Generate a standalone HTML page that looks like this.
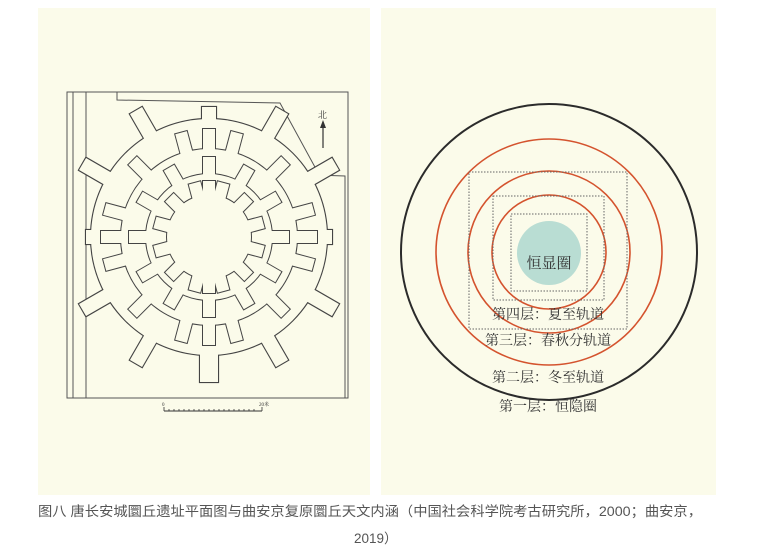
<!DOCTYPE html>
<html><head><meta charset="utf-8"><style>
html,body{margin:0;padding:0;background:#fff;}
svg{display:block}
</style></head><body>
<svg width="758" height="554" viewBox="0 0 758 554" xmlns="http://www.w3.org/2000/svg" font-family="Liberation Serif, Noto Serif CJK SC, serif">
<rect x="38" y="8" width="332" height="487" fill="#fbfbea"/>
<rect x="381" y="8" width="335" height="487" fill="#fbfbea"/>
<g fill="none" stroke="#555" stroke-width="1">
<rect x="67" y="92" width="281" height="306"/>
<line x1="73" y1="92" x2="73" y2="398"/>
<line x1="86" y1="92" x2="86" y2="398"/>
<polyline points="117,92 117,100 280,103 322,180"/>
<polyline points="315,175 345,176 345,398"/>
</g>
<g transform="translate(209,237)">
<g stroke="#444" stroke-width="2.2" fill="#444">
<circle r="118"/>
<g id="t1"><rect x="-7" y="-130" width="14" height="30" transform="rotate(0)"/><rect x="-7" y="-146" width="14" height="44" transform="rotate(30)"/><rect x="-7" y="-146" width="14" height="44" transform="rotate(60)"/><rect x="-7" y="-123" width="14" height="24" transform="rotate(90)"/><rect x="-7" y="-146" width="14" height="44" transform="rotate(120)"/><rect x="-7" y="-146" width="14" height="44" transform="rotate(150)"/><rect x="-9" y="-145" width="18" height="40" transform="rotate(180)"/><rect x="-7" y="-146" width="14" height="44" transform="rotate(210)"/><rect x="-7" y="-146" width="14" height="44" transform="rotate(240)"/><rect x="-7" y="-123" width="14" height="24" transform="rotate(270)"/><rect x="-7" y="-146" width="14" height="44" transform="rotate(300)"/><rect x="-7" y="-146" width="14" height="44" transform="rotate(330)"/></g>
</g>
<g fill="#fbfbea"><circle r="118"/><use href="#t1"/></g>
<g stroke="#444" stroke-width="2" fill="#444">
<circle r="88"/>
<g id="t2"><rect x="-6" y="-108" width="12" height="30" transform="rotate(15)"/><rect x="-6" y="-108" width="12" height="30" transform="rotate(45)"/><rect x="-6" y="-108" width="12" height="30" transform="rotate(75)"/><rect x="-6" y="-108" width="12" height="30" transform="rotate(105)"/><rect x="-6" y="-108" width="12" height="30" transform="rotate(135)"/><rect x="-6" y="-108" width="12" height="30" transform="rotate(165)"/><rect x="-6" y="-108" width="12" height="30" transform="rotate(195)"/><rect x="-6" y="-108" width="12" height="30" transform="rotate(225)"/><rect x="-6" y="-108" width="12" height="30" transform="rotate(255)"/><rect x="-6" y="-108" width="12" height="30" transform="rotate(285)"/><rect x="-6" y="-108" width="12" height="30" transform="rotate(315)"/><rect x="-6" y="-108" width="12" height="30" transform="rotate(345)"/><rect x="-6" y="-108" width="12" height="30" transform="rotate(0)"/><rect x="-6" y="-108" width="12" height="30" transform="rotate(180)"/><rect x="-6" y="-108" width="12" height="30" transform="rotate(90)"/><rect x="-6" y="-108" width="12" height="30" transform="rotate(270)"/></g>
</g>
<g fill="#fbfbea"><circle r="88"/><use href="#t2"/></g>
<g stroke="#444" stroke-width="2" fill="#444">
<circle r="63"/>
<g id="t3"><rect x="-6" y="-80" width="12" height="24" transform="rotate(0)"/><rect x="-6" y="-80" width="12" height="24" transform="rotate(30)"/><rect x="-6" y="-80" width="12" height="24" transform="rotate(60)"/><rect x="-6" y="-80" width="12" height="24" transform="rotate(90)"/><rect x="-6" y="-80" width="12" height="24" transform="rotate(120)"/><rect x="-6" y="-80" width="12" height="24" transform="rotate(150)"/><rect x="-6" y="-80" width="12" height="24" transform="rotate(180)"/><rect x="-6" y="-80" width="12" height="24" transform="rotate(210)"/><rect x="-6" y="-80" width="12" height="24" transform="rotate(240)"/><rect x="-6" y="-80" width="12" height="24" transform="rotate(270)"/><rect x="-6" y="-80" width="12" height="24" transform="rotate(300)"/><rect x="-6" y="-80" width="12" height="24" transform="rotate(330)"/></g>
</g>
<g fill="#fbfbea"><circle r="63"/><use href="#t3"/></g>
<g stroke="#444" stroke-width="2" fill="#444">
<circle r="42"/>
<g id="t4"><rect x="-6" y="-56" width="12" height="20" transform="rotate(15)"/><rect x="-6" y="-56" width="12" height="20" transform="rotate(45)"/><rect x="-6" y="-56" width="12" height="20" transform="rotate(75)"/><rect x="-6" y="-56" width="12" height="20" transform="rotate(105)"/><rect x="-6" y="-56" width="12" height="20" transform="rotate(135)"/><rect x="-6" y="-56" width="12" height="20" transform="rotate(165)"/><rect x="-6" y="-56" width="12" height="20" transform="rotate(195)"/><rect x="-6" y="-56" width="12" height="20" transform="rotate(225)"/><rect x="-6" y="-56" width="12" height="20" transform="rotate(255)"/><rect x="-6" y="-56" width="12" height="20" transform="rotate(285)"/><rect x="-6" y="-56" width="12" height="20" transform="rotate(315)"/><rect x="-6" y="-56" width="12" height="20" transform="rotate(345)"/><rect x="-6" y="-56" width="12" height="20" transform="rotate(0)"/><rect x="-6" y="-56" width="12" height="20" transform="rotate(180)"/></g>
</g>
<g fill="#fbfbea"><circle r="42"/><use href="#t4"/></g>
</g>
<text x="318" y="118" font-size="9" fill="#333">北</text>
<line x1="323" y1="122" x2="323" y2="148" stroke="#333" stroke-width="1.2"/>
<polygon points="320,128 326,128 323,120" fill="#333"/>
<line x1="164" y1="411" x2="262" y2="411" stroke="#333" stroke-width="1"/>
<g stroke="#333" stroke-width="0.8">
<line x1="164" y1="407" x2="164" y2="411"/><line x1="262" y1="407" x2="262" y2="411"/>
<line x1="169" y1="409" x2="169" y2="411"/><line x1="174" y1="409" x2="174" y2="411"/><line x1="179" y1="409" x2="179" y2="411"/><line x1="184" y1="409" x2="184" y2="411"/><line x1="189" y1="409" x2="189" y2="411"/><line x1="194" y1="409" x2="194" y2="411"/><line x1="199" y1="409" x2="199" y2="411"/><line x1="204" y1="409" x2="204" y2="411"/><line x1="209" y1="409" x2="209" y2="411"/><line x1="214" y1="409" x2="214" y2="411"/><line x1="219" y1="409" x2="219" y2="411"/><line x1="224" y1="409" x2="224" y2="411"/><line x1="229" y1="409" x2="229" y2="411"/><line x1="234" y1="409" x2="234" y2="411"/><line x1="239" y1="409" x2="239" y2="411"/><line x1="244" y1="409" x2="244" y2="411"/><line x1="249" y1="409" x2="249" y2="411"/><line x1="254" y1="409" x2="254" y2="411"/>
</g>
<text x="162" y="406" font-size="5" fill="#333">0</text>
<text x="259" y="406" font-size="5" fill="#333">20米</text>

<circle cx="549" cy="252" r="148" fill="none" stroke="#2b2b2b" stroke-width="2"/>
<circle cx="549" cy="252" r="113" fill="none" stroke="#d4532e" stroke-width="1.6"/>
<circle cx="549" cy="252" r="81" fill="none" stroke="#d4532e" stroke-width="1.6"/>
<circle cx="549" cy="252" r="57" fill="none" stroke="#d4532e" stroke-width="1.6"/>
<g fill="none" stroke="#666" stroke-width="1" stroke-dasharray="1.5,1.5">
<rect x="469" y="172" width="158" height="157"/>
<rect x="493" y="196" width="111" height="104"/>
<rect x="511" y="214" width="76" height="77"/>
</g>
<circle cx="549" cy="253" r="32" fill="#b9ddd3"/>
<g font-size="14" fill="#333" text-anchor="middle">
<text x="549" y="268" font-size="15">恒显圈</text>
<text x="548" y="319">第四层：夏至轨道</text>
<text x="548" y="345">第三层：春秋分轨道</text>
<text x="548" y="382">第二层：冬至轨道</text>
<text x="548" y="411">第一层：恒隐圈</text>
</g>
<g font-family="Liberation Sans, Noto Sans CJK SC, sans-serif" font-size="13.5" fill="#555">
<text x="38" y="516" textLength="664" lengthAdjust="spacingAndGlyphs">图八 唐长安城圜丘遗址平面图与曲安京复原圜丘天文内涵（中国社会科学院考古研究所，2000；曲安京，</text>
<text x="354" y="543">2019）</text>
</g>
</svg>
</body></html>
